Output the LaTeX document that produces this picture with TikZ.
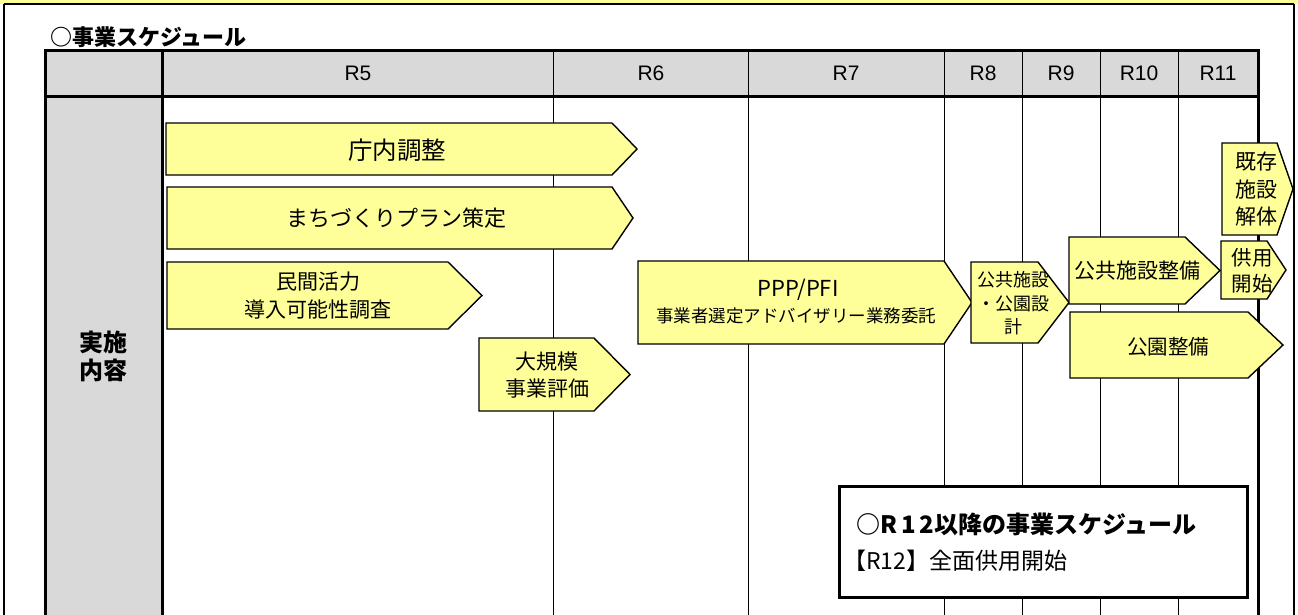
\documentclass[tikz,border=0pt]{standalone}
\usepackage{fontspec}
\setmainfont{Liberation Sans}
\newfontfamily\jp{Noto Sans CJK JP}
\definecolor{ylw}{HTML}{FFFF99}
\definecolor{hdr}{HTML}{D9D9D9}
\newcommand\fsz[2]{\fontsize{#1}{#2}\selectfont}
\begin{document}
\begin{tikzpicture}[x=1pt,y=-1pt,
  frameline/.style={line width=2pt,draw=black},
  thickline/.style={line width=3pt,draw=black},
  thinline/.style={line width=1pt,draw=black},
  abox/.style={fill=ylw,draw=black,line width=1.4pt,line join=miter},
  notebox/.style={fill=white,draw=black,line width=3pt},
  hlabel/.style={inner sep=0pt,font=\fsz{21}{23}},
  lbl/.style={inner sep=0pt,align=center}]
\useasboundingbox (0,0) rectangle (1298,614);
% outer frame
\fill[ylw] (0,0) rectangle (1298,4);
\draw[frameline] (4,4) -- (1294,4);
\draw[frameline] (4,4) -- (4,620);
\draw[frameline] (1294,4) -- (1294,620);
% title
\node[inner sep=0pt,anchor=west,font=\jp\bfseries\fsz{22}{24}] (title) at (50,37) {○事業スケジュール};
% table fills
\fill[hdr] (45,50) rectangle (1258,96);
\fill[hdr] (45,96) rectangle (162,620);
% thin column lines
\foreach \xx in {553,748,944,1022,1100,1178}
  \draw[thinline] (\xx,50) -- (\xx,620);
% thick lines
\draw[thickline] (45,620) -- (45,50) -- (1258,50) -- (1258,620);
\draw[thickline] (45,96) -- (1258,96);
\draw[thickline] (162,50) -- (162,620);
% header labels
\node[hlabel] (r5) at (358,73) {R5};
\node[hlabel] (r6) at (651,73) {R6};
\node[hlabel] (r7) at (846,73) {R7};
\node[hlabel] (r8) at (983,73) {R8};
\node[hlabel] (r9) at (1061,73) {R9};
\node[hlabel] (r10) at (1139,73) {R10};
\node[hlabel] (r11) at (1218,73) {R11};
\node[lbl,font=\jp\bfseries\fsz{24}{28}] (jisshi) at (103,356) {実施\\内容};
% arrows
\filldraw[abox] (166,123) -- (612,123) -- (637,149) -- (612,175) -- (166,175) -- cycle;
\node[lbl,font=\jp\fsz{24.5}{28}] (chonai) at (397,150) {庁内調整};
\filldraw[abox] (167,187) -- (612,187) -- (633,218) -- (612,249) -- (167,249) -- cycle;
\node[lbl,font=\jp\fsz{22}{28}] (machi) at (396,218) {まちづくりプラン策定};
\filldraw[abox] (167,262) -- (448,262) -- (482,295.5) -- (448,329) -- (167,329) -- cycle;
\node[lbl,font=\jp\fsz{21}{28}] (minkan) at (318,296) {民間活力\\導入可能性調査};
\filldraw[abox] (479,338) -- (594,338) -- (630,374.5) -- (594,411) -- (479,411) -- cycle;
\node[lbl,font=\jp\fsz{21}{27}] (daikibo) at (547,375.5) {大規模\\事業評価};
\filldraw[abox] (638,261) -- (944,261) -- (972,302.5) -- (944,344) -- (638,344) -- cycle;
\node[lbl,font=\jp\fsz{22}{24}] (ppp) at (798,290) {PPP/PFI};
\node[lbl,font=\jp\fsz{17.5}{22}] (pppsub) at (796,316) {事業者選定アドバイザリー業務委託};
\filldraw[abox] (971,262) -- (1038,262) -- (1069,302.5) -- (1038,343) -- (971,343) -- cycle;
\node[lbl,font=\jp\fsz{18}{23.5}] (sekkei) at (1013,303.5) {公共施設\\・公園設\\計};
\filldraw[abox] (1069,237) -- (1185,237) -- (1220,270.5) -- (1185,304) -- (1069,304) -- cycle;
\node[lbl,font=\jp\fsz{21}{26}] (shisetsu) at (1137,271) {公共施設整備};
\filldraw[abox] (1070,312) -- (1248,312) -- (1283,345) -- (1248,378) -- (1070,378) -- cycle;
\node[lbl,font=\jp\fsz{20.5}{26}] (koen) at (1168,347) {公園整備};
\filldraw[abox] (1221,241) -- (1267,241) -- (1286,270) -- (1267,299) -- (1221,299) -- cycle;
\node[lbl,font=\jp\fsz{20.5}{26}] (kyoyo) at (1252,271) {供用\\開始};
\filldraw[abox] (1222,143) -- (1277,143) -- (1293,189) -- (1277,235) -- (1222,235) -- cycle;
\node[lbl,font=\jp\fsz{21}{27.5}] (kizon) at (1256,189.5) {既存\\施設\\解体};
% note box
\filldraw[notebox] (839,486) rectangle (1247,597);
\node[inner sep=0pt,anchor=west,font=\jp\bfseries\fsz{24}{26}] (note1) at (856,524) {○R\kern4pt1\kern4pt2以降の事業スケジュール};
\node[inner sep=0pt,anchor=west,font=\jp\fsz{23}{26}] (note2) at (843,561) {【R12】全面供用開始};
\end{tikzpicture}
\end{document}
